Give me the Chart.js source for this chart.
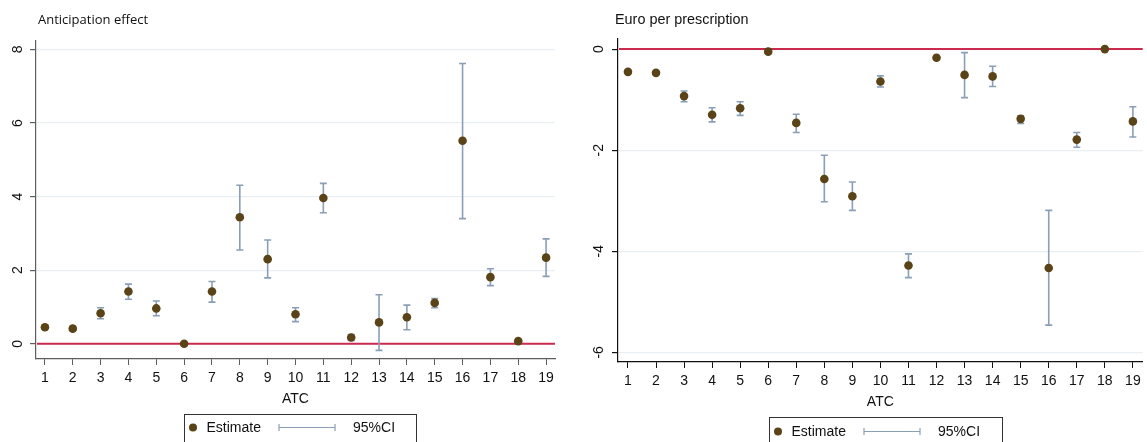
<!DOCTYPE html>
<html><head><meta charset="utf-8">
<script src="https://cdn.jsdelivr.net/npm/chart.js@4"></script>
<style>
html,body{margin:0;padding:0;background:#fff;}
body{width:1147px;height:442px;position:relative;overflow:hidden;}
.panel{position:absolute;top:0;}
canvas{display:block;}
</style></head><body>
<div class="panel" style="left:0px"><canvas id="c1" width="570" height="442"></canvas></div>
<div class="panel" style="left:570px"><canvas id="c2" width="577" height="442"></canvas></div>
<script>
// ---- data ----
const atcCategories = [1,2,3,4,5,6,7,8,9,10,11,12,13,14,15,16,17,18,19];

const anticipationEstimate = [0.45,0.41,0.83,1.42,0.96,0.00,1.42,3.44,2.30,0.80,3.96,0.17,0.58,0.72,1.11,5.52,1.81,0.07,2.34];
const anticipationLower    = [0.40,0.37,0.68,1.21,0.76,-0.03,1.13,2.55,1.79,0.60,3.56,0.09,-0.18,0.38,0.98,3.40,1.58,0.04,1.83];
const anticipationUpper    = [0.50,0.45,0.98,1.62,1.16,0.03,1.69,4.31,2.82,0.98,4.36,0.25,1.33,1.05,1.23,7.62,2.04,0.10,2.85];

const euroEstimate = [-0.45,-0.47,-0.93,-1.30,-1.17,-0.05,-1.46,-2.57,-2.91,-0.64,-4.28,-0.17,-0.51,-0.54,-1.38,-4.33,-1.79,0.00,-1.43];
const euroLower    = [-0.48,-0.50,-1.04,-1.44,-1.31,-0.07,-1.65,-3.02,-3.19,-0.75,-4.52,-0.19,-0.96,-0.74,-1.47,-5.46,-1.94,-0.02,-1.74];
const euroUpper    = [-0.42,-0.44,-0.83,-1.16,-1.04,-0.03,-1.29,-2.10,-2.63,-0.53,-4.05,-0.15,-0.07,-0.34,-1.32,-3.19,-1.65,0.02,-1.14];

const anticipationTicks = [0,2,4,6,8];
const euroTicks = [0,-2,-4,-6];
const xTickLabels = atcCategories.map(String);

const panelTitles = ['Anticipation effect','Euro per prescription'];
const legendLabels = ['Estimate','95%CI'];
const xAxisTitle = 'ATC';

// ---- styles ----
const POINT_COLOR = '#5a4316';
const CI_COLOR = '#8a9fb6';
const ZERO_COLOR = '#c92a4e';
const GRID_COLOR = '#e8eff2';

function makePanel(canvasId, cfg) {
  const est = cfg.est, lo = cfg.lo, hi = cfg.hi;
  const plugin = {
    id: 'panelDecor' + canvasId,
    beforeDatasetsDraw(chart) {
      const ctx = chart.ctx, xs = chart.scales.x, ys = chart.scales.y, ca = chart.chartArea;
      ctx.save();
      const y0 = ys.getPixelForValue(0);
      ctx.strokeStyle = ZERO_COLOR; ctx.lineWidth = 2;
      ctx.beginPath(); ctx.moveTo(ca.left + 1, y0); ctx.lineTo(ca.right, y0); ctx.stroke();
      ctx.strokeStyle = CI_COLOR; ctx.lineWidth = 1.6;
      for (let i = 0; i < atcCategories.length; i++) {
        const x = xs.getPixelForValue(atcCategories[i]);
        const yl = ys.getPixelForValue(lo[i]), yh = ys.getPixelForValue(hi[i]);
        ctx.beginPath();
        ctx.moveTo(x, yl); ctx.lineTo(x, yh);
        ctx.moveTo(x - 3.5, yl); ctx.lineTo(x + 3.5, yl);
        ctx.moveTo(x - 3.5, yh); ctx.lineTo(x + 3.5, yh);
        ctx.stroke();
      }
      ctx.restore();
    },
    afterDraw(chart) {
      const ctx = chart.ctx, ys = chart.scales.y;
      ctx.save();
      ctx.fillStyle = '#111';
      ctx.font = '14px "Liberation Sans", Arial, sans-serif';
      ctx.textAlign = 'center'; ctx.textBaseline = 'middle';
      cfg.yTicks.forEach(v => {
        const y = ys.getPixelForValue(v);
        ctx.save();
        ctx.translate(cfg.yLabelX, y);
        ctx.rotate(-Math.PI / 2);
        ctx.fillText(String(v), 0, 0);
        ctx.restore();
      });
      ctx.textAlign = 'left'; ctx.textBaseline = 'middle';
      ctx.font = cfg.titleFont;
      ctx.fillStyle = '#111';
      ctx.fillText(cfg.title, cfg.titleX, 20.5);
      const L = cfg.legend;
      ctx.strokeStyle = '#333'; ctx.lineWidth = 1;
      ctx.strokeRect(L.x + 0.5, L.y + 0.5, L.w, 60);
      ctx.fillStyle = POINT_COLOR;
      ctx.beginPath(); ctx.arc(L.x + 9, L.cy, 4, 0, Math.PI * 2); ctx.fill();
      ctx.fillStyle = '#111';
      ctx.font = '14px "Liberation Sans", Arial, sans-serif';
      ctx.fillText(legendLabels[0], L.x + 22.5, L.cy + 1);
      ctx.strokeStyle = CI_COLOR; ctx.lineWidth = 1.2;
      const l1 = L.x + 95, l2 = L.x + 151;
      ctx.beginPath();
      ctx.moveTo(l1, L.cy); ctx.lineTo(l2, L.cy);
      ctx.moveTo(l1, L.cy - 3.5); ctx.lineTo(l1, L.cy + 3.5);
      ctx.moveTo(l2, L.cy - 3.5); ctx.lineTo(l2, L.cy + 3.5);
      ctx.stroke();
      ctx.fillText(legendLabels[1], L.x + 169, L.cy + 1);
      ctx.restore();
    }
  };

  return new Chart(document.getElementById(canvasId), {
    type: 'scatter',
    data: {
      datasets: [{
        label: legendLabels[0],
        data: atcCategories.map((c, i) => ({ x: c, y: est[i] })),
        backgroundColor: POINT_COLOR,
        borderColor: POINT_COLOR,
        pointRadius: 4.3,
        pointHoverRadius: 4.3,
        borderWidth: 0
      }]
    },
    options: {
      responsive: false,
      animation: false,
      devicePixelRatio: 1,
      layout: { padding: cfg.padding },
      plugins: { legend: { display: false }, tooltip: { enabled: false }, title: { display: false } },
      scales: {
        x: {
          type: 'linear',
          min: cfg.xMin, max: cfg.xMax,
          afterBuildTicks: s => { s.ticks = atcCategories.map(v => ({ value: v })); },
          afterFit: s => { s.height = cfg.xHeight; },
          grid: { display: true, drawOnChartArea: false, drawTicks: true, tickLength: 6, tickColor: cfg.axisColor, lineWidth: 1 },
          border: { display: true, color: cfg.axisColor, width: 1.2 },
          ticks: {
            autoSkip: false, maxRotation: 0, minRotation: 0, padding: cfg.xTickPad,
            color: '#111',
            font: { family: '"Liberation Sans", Arial, sans-serif', size: 14 },
            callback: (v) => xTickLabels[atcCategories.indexOf(v)]
          },
          title: {
            display: true, text: xAxisTitle, color: '#111',
            font: { family: '"Liberation Sans", Arial, sans-serif', size: 14 },
            padding: { top: 0, bottom: cfg.xTitlePad }
          }
        },
        y: {
          type: 'linear',
          min: cfg.yMin, max: cfg.yMax,
          afterBuildTicks: s => { s.ticks = cfg.yTicks.map(v => ({ value: v })); },
          afterFit: s => { s.width = cfg.yWidth; },
          grid: { display: true, color: GRID_COLOR, lineWidth: 1.2, drawTicks: true, tickLength: 6, tickColor: cfg.axisColor },
          border: { display: true, color: cfg.axisColor, width: 1.2 },
          ticks: { color: 'rgba(0,0,0,0)', padding: 2, font: { size: 14 } }
        }
      }
    },
    plugins: [plugin]
  });
}

makePanel('c1', {
  est: anticipationEstimate, lo: anticipationLower, hi: anticipationUpper,
  yTicks: anticipationTicks, yMin: -0.415, yMax: 8.23,
  xMin: 0.68, xMax: 19.32,
  padding: { left: 0, right: 15, top: 41, bottom: 0 },
  yWidth: 36, xHeight: 83, xTitlePad: 34, xTickPad: 5,
  axisColor: '#5e5e5e',
  yLabelX: 18.5,
  title: panelTitles[0], titleX: 38, titleFont: '13px "Open Sans", sans-serif',
  legend: { x: 184, y: 414, w: 232, cy: 427.5 }
});

makePanel('c2', {
  est: euroEstimate, lo: euroLower, hi: euroUpper,
  yTicks: euroTicks, yMin: -6.19, yMax: 0.21,
  xMin: 0.645, xMax: 19.35,
  padding: { left: 0, right: 2, top: 38.5, bottom: 0 },
  yWidth: 48, xHeight: 80, xTitlePad: 31, xTickPad: 5,
  axisColor: '#111',
  yLabelX: 29,
  title: panelTitles[1], titleX: 45, titleFont: '14.4px "Liberation Sans", Arial, sans-serif',
  legend: { x: 199, y: 417, w: 233, cy: 431.5 }
});
</script>
</body></html>
